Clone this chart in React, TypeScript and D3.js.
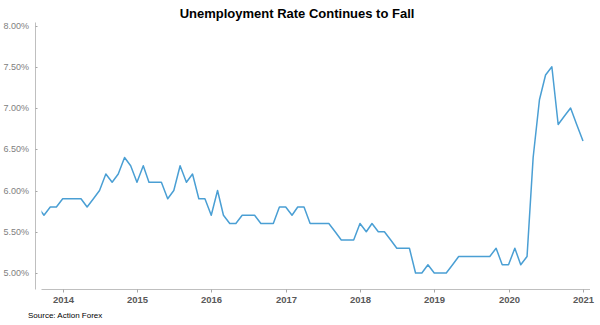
import React from "react";
import * as d3 from "d3";

const title = "Unemployment Rate Continues to Fall";
const source = "Source: Action Forex";
const startMonth = "2013-08";
const rates: number[] = [
  5.8, 5.7, 5.8, 5.8, 5.9, 5.9, 5.9, 5.9, 5.8, 5.9, 6.0, 6.2, 6.1, 6.2, 6.4, 6.3,
  6.1, 6.3, 6.1, 6.1, 6.1, 5.9, 6.0, 6.3, 6.1, 6.2, 5.9, 5.9, 5.7, 6.0, 5.7, 5.6,
  5.6, 5.7, 5.7, 5.7, 5.6, 5.6, 5.6, 5.8, 5.8, 5.7, 5.8, 5.8, 5.6, 5.6, 5.6, 5.6,
  5.5, 5.4, 5.4, 5.4, 5.6, 5.5, 5.6, 5.5, 5.5, 5.4, 5.3, 5.3, 5.3, 5.0, 5.0, 5.1,
  5.0, 5.0, 5.0, 5.1, 5.2, 5.2, 5.2, 5.2, 5.2, 5.2, 5.3, 5.1, 5.1, 5.3, 5.1, 5.2,
  6.4, 7.1, 7.4, 7.5, 6.8, 6.9, 7.0, 6.8, 6.6,
];
const yTicks = [5.0, 5.5, 6.0, 6.5, 7.0, 7.5, 8.0];
const xTickYears = [2014, 2015, 2016, 2017, 2018, 2019, 2020, 2021];

export default function App() {
  const W = 600, H = 325;
  const parse = d3.timeParse("%Y-%m");
  const start = parse(startMonth) as Date;
  const data = rates.map((v, i) => ({
    // plotted at the end of each month
    date: d3.timeMonth.offset(start, i + 1),
    value: v,
  }));

  const x = d3
    .scaleTime()
    .domain([new Date(2014, 0, 1), new Date(2021, 0, 1)])
    .range([62.7, 583]);
  const y = d3.scaleLinear().domain([4.8, 8.0]).range([289.5, 25.5]);

  const line = d3
    .line<{ date: Date; value: number }>()
    .x((d) => x(d.date))
    .y((d) => y(d.value));

  const axisX = 35.5;
  const plotLeft = 41.5;
  const baseY = 289.5;

  return (
    <div style={{ position: "absolute", left: 0, top: 0 }}>
      <svg width={W} height={H} style={{ display: "block", background: "#fff" }}>
        <defs>
          <clipPath id="plot">
            <rect x={plotLeft} y={0} width={W - plotLeft} height={H} />
          </clipPath>
        </defs>
        <text
          x={297}
          y={18}
          textAnchor="middle"
          fontFamily="'Liberation Sans', Arial, sans-serif"
          fontWeight="bold"
          fontSize={13}
          fill="#000"
        >
          {title}
        </text>
        {/* y axis */}
        <line x1={axisX} x2={axisX} y1={y(8.0) - 3} y2={baseY} stroke="#bfbfbf" strokeWidth={1} />
        {yTicks.map((t) => (
          <g key={t}>
            <line x1={axisX} x2={axisX + 2} y1={Math.round(y(t)) + 0.5} y2={Math.round(y(t)) + 0.5} stroke="#a6a6a6" />
            <text
              x={29}
              y={y(t) + 3.2}
              textAnchor="end"
              fontFamily="'Liberation Sans', Arial, sans-serif"
              fontSize={9}
              fill="#808080"
            >
              {t.toFixed(2) + "%"}
            </text>
          </g>
        ))}
        {/* x axis */}
        <line x1={plotLeft} x2={590} y1={baseY} y2={baseY} stroke="#bfbfbf" strokeWidth={1} />
        {xTickYears.map((yr) => {
          const px = Math.round(x(new Date(yr, 0, 1))) + 0.5;
          return (
            <g key={yr}>
              <line x1={px} x2={px} y1={baseY} y2={baseY + 3} stroke="#a6a6a6" />
              <text
                x={px}
                y={303}
                textAnchor="middle"
                fontFamily="'Liberation Sans', Arial, sans-serif"
                fontSize={9.5}
                fontWeight="bold"
                fill="#595959"
              >
                {yr}
              </text>
            </g>
          );
        })}
        <path
          d={line(data) || ""}
          fill="none"
          stroke="#4a9fd4"
          strokeWidth={1.5}
          strokeLinejoin="round"
          clipPath="url(#plot)"
        />
        <text
          x={28}
          y={318}
          fontFamily="'Liberation Sans', Arial, sans-serif"
          fontSize={8}
          fill="#000"
        >
          {source}
        </text>
      </svg>
    </div>
  );
}
